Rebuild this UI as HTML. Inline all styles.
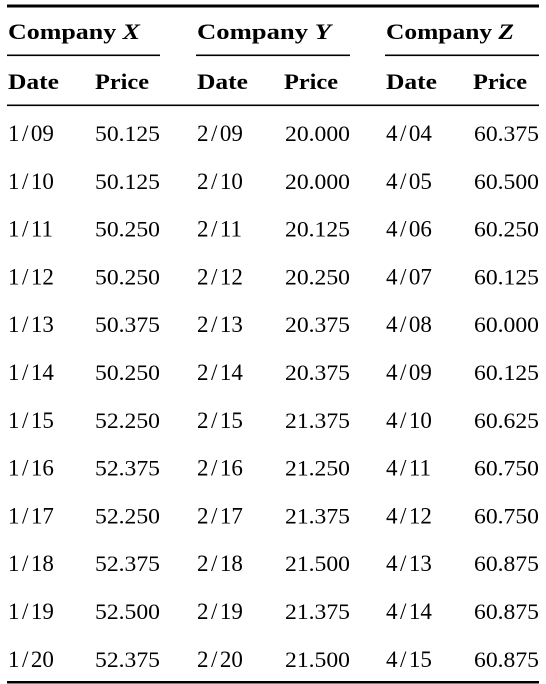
<!DOCTYPE html>
<html><head><meta charset="utf-8"><style>
html,body{margin:0;padding:0;background:#fff;}
svg{display:block;font-family:"Liberation Serif",serif;}
</style></head><body>
<svg id="t" width="546" height="684">
<rect x="7" y="4.5" width="532" height="3" fill="#000"/>
<rect x="7" y="104.5" width="532" height="1.6" fill="#000"/>
<rect x="7" y="681" width="532" height="2.5" fill="#000"/>
</svg>
<script>
const companies=["X","Y","Z"];
const datesX=["1/09","1/10","1/11","1/12","1/13","1/14","1/15","1/16","1/17","1/18","1/19","1/20"];
const pricesX=["50.125","50.125","50.250","50.250","50.375","50.250","52.250","52.375","52.250","52.375","52.500","52.375"];
const datesY=["2/09","2/10","2/11","2/12","2/13","2/14","2/15","2/16","2/17","2/18","2/19","2/20"];
const pricesY=["20.000","20.000","20.125","20.250","20.375","20.375","21.375","21.250","21.375","21.500","21.375","21.500"];
const datesZ=["4/04","4/05","4/06","4/07","4/08","4/09","4/10","4/11","4/12","4/13","4/14","4/15"];
const pricesZ=["60.375","60.500","60.250","60.125","60.000","60.125","60.625","60.750","60.750","60.875","60.875","60.875"];
const dates=[datesX,datesY,datesZ],prices=[pricesX,pricesY,pricesZ];
const svg=document.getElementById('t');const NS="http://www.w3.org/2000/svg";
const colX=[8,197,386],priceR=[160,350,539],headW=[132,134,128];
function txt(x,y,s,opts){const e=document.createElementNS(NS,'text');e.setAttribute('x',x);e.setAttribute('y',y);e.setAttribute('font-size',opts.size||22);if(opts.bold)e.setAttribute('font-weight','bold');if(opts.len){e.setAttribute('textLength',opts.len);e.setAttribute('lengthAdjust','spacingAndGlyphs');}e.textContent=s;svg.appendChild(e);return e;}
companies.forEach((c,k)=>{
 const h=txt(colX[k],39,'',{bold:true});
 
 
 const a=document.createElementNS(NS,'tspan');a.textContent='Company ';h.appendChild(a);
 const b=document.createElementNS(NS,'tspan');b.setAttribute('font-style','italic');b.textContent=c;h.appendChild(b);
 h.setAttribute('textLength',headW[k]);h.setAttribute('lengthAdjust','spacingAndGlyphs');
 const r=document.createElementNS(NS,'rect');r.setAttribute('x',colX[k]-1);r.setAttribute('y',54.5);r.setAttribute('width',priceR[k]-colX[k]+1);r.setAttribute('height',1.6);
 
 
 svg.appendChild(r);
 const d=txt(colX[k],89,'Date',{bold:true,len:51});
 
 
 const p=txt(colX[k]+87,89,'Price',{bold:true,len:54});
 
 
 dates[k].forEach((dt,i)=>{
  const y=141+i*47.8;
  const parts=dt.split('/');
  const de=txt(colX[k],y,'',{size:23});
  
  
  const t1=document.createElementNS(NS,'tspan');t1.textContent=parts[0];de.appendChild(t1);
  const t2=document.createElementNS(NS,'tspan');t2.setAttribute('dx','2.5');t2.textContent='/';de.appendChild(t2);
  const t3=document.createElementNS(NS,'tspan');t3.setAttribute('dx','2.5');t3.textContent=parts[1];de.appendChild(t3);
  const pe=txt(priceR[k]-65,y,prices[k][i],{len:65});
  
  
 });
});
</script>
</body></html>
